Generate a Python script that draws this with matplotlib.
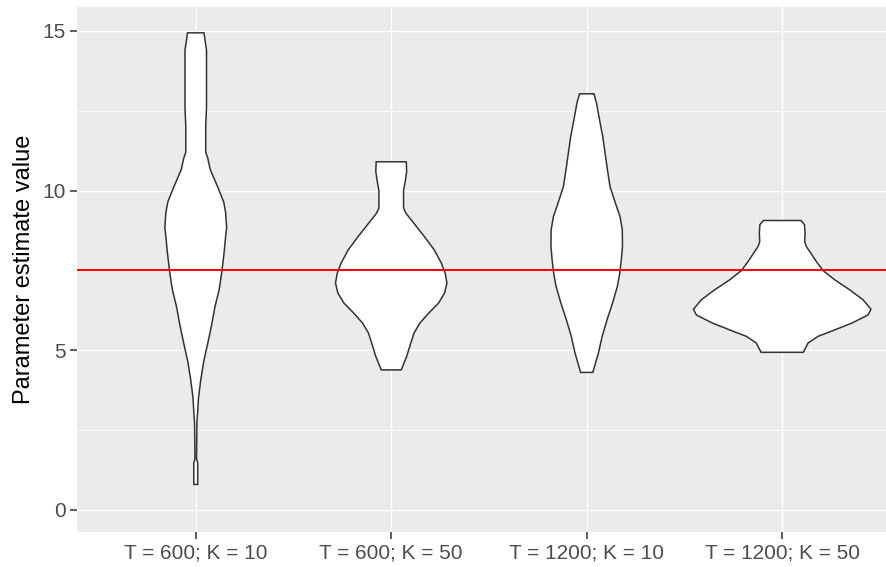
import matplotlib
matplotlib.use("Agg")
import matplotlib.pyplot as plt
import numpy as np

categories = ["T = 600; K = 10", "T = 600; K = 50", "T = 1200; K = 10", "T = 1200; K = 50"]

# violin profiles: y levels and half-widths (category units)
v1_y = [14.94, 14.6, 14.4, 12.6, 12.0, 11.2, 11.0, 10.66, 10.1, 9.64, 9.3, 8.84, 8.5, 8.05, 7.48,
        6.9, 6.35, 5.78, 5.2, 4.65, 4.08, 3.5, 3.06, 2.72, 1.59, 1.47, 0.79]
v1_w = [0.042, 0.050, 0.055, 0.055, 0.051, 0.051, 0.062, 0.074, 0.113, 0.143, 0.153, 0.158, 0.152,
        0.145, 0.134, 0.120, 0.098, 0.081, 0.061, 0.041, 0.026, 0.014, 0.010, 0.006, 0.004, 0.010, 0.010]

v2_y = [10.9, 10.6, 10.3, 10.0, 9.45, 9.29, 8.98, 8.56, 8.14, 7.73, 7.41, 7.1, 6.79, 6.48, 6.16,
        5.85, 5.54, 5.22, 4.8, 4.38]
v2_w = [0.077, 0.079, 0.072, 0.063, 0.063, 0.075, 0.115, 0.169, 0.220, 0.256, 0.276, 0.285, 0.273,
        0.243, 0.192, 0.147, 0.117, 0.100, 0.079, 0.051]

v3_y = [13.03, 12.74, 12.2, 11.69, 11.17, 10.65, 10.13, 9.6, 9.19, 8.77, 8.25, 7.83, 7.41, 7.0,
        6.47, 5.95, 5.43, 4.91, 4.3]
v3_w = [0.037, 0.050, 0.066, 0.082, 0.094, 0.106, 0.119, 0.147, 0.170, 0.182, 0.183, 0.177, 0.169,
        0.157, 0.132, 0.104, 0.079, 0.060, 0.031]

v4_y = [9.06, 8.93, 8.66, 8.4, 8.25, 8.04, 7.78, 7.49, 7.2, 6.89, 6.58, 6.28, 6.1, 5.85, 5.58,
        5.43, 5.22, 4.93]
v4_w = [0.096, 0.114, 0.117, 0.115, 0.123, 0.146, 0.174, 0.209, 0.269, 0.345, 0.413, 0.454, 0.439,
        0.358, 0.247, 0.183, 0.132, 0.108]

true_value = 7.5
y_ticks = [0, 5, 10, 15]
y_label = "Parameter estimate value"

plt.rcParams["font.family"] = ["Liberation Sans", "DejaVu Sans"]

W, H = 886, 567
fig = plt.figure(figsize=(W / 100, H / 100), dpi=100)
left, right, top, bottom = 76.7, 886, 7, 532
ax = fig.add_axes([left / W, 1 - bottom / H, (right - left) / W, (bottom - top) / H])
ax.set_facecolor("#EBEBEB")
for s in ax.spines.values():
    s.set_visible(False)

ax.set_xlim(0.391, 4.531)
ax.set_ylim(-0.7, 15.75)
ax.set_yticks(y_ticks)
ax.set_yticks([2.5, 7.5, 12.5], minor=True)
ax.set_xticks(range(1, len(categories) + 1))
ax.set_xticklabels(categories)
ax.grid(which="major", color="white", linewidth=1.0)
ax.grid(which="minor", axis="y", color="white", linewidth=0.55)
ax.set_axisbelow(True)
ax.tick_params(which="major", length=5, width=1.1, color="#333333", labelcolor="#4D4D4D",
               labelsize=15, pad=3)
ax.tick_params(which="minor", length=0)
ax.set_ylabel(y_label, fontsize=17, color="black", labelpad=5)

profiles = [(v1_y, v1_w), (v2_y, v2_w), (v3_y, v3_w), (v4_y, v4_w)]
for i, (yy, ww) in enumerate(profiles):
    c = i + 1
    yy = np.array(yy)
    ww = np.array(ww)
    xs = np.concatenate([c + ww, (c - ww)[::-1]])
    ys = np.concatenate([yy, yy[::-1]])
    ax.fill(xs, ys, facecolor="white", edgecolor="#333333", linewidth=1.1, zorder=2)

ax.axhline(true_value, color="#FF0000", linewidth=1.4, zorder=3)

fig.savefig("out.png", dpi=100)
